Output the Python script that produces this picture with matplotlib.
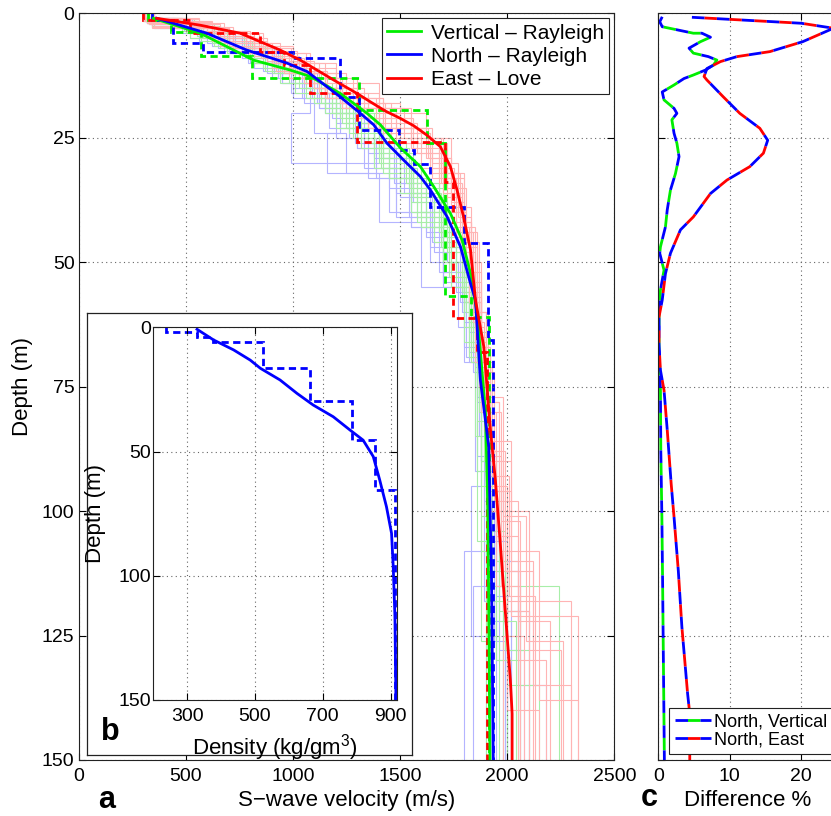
import matplotlib.pyplot as plt

plt.rcParams['font.family'] = ['Liberation Sans', 'DejaVu Sans']
plt.rcParams['mathtext.fontset'] = 'custom'
plt.rcParams['mathtext.rm'] = 'Liberation Sans'

# ── mean (smooth) S-wave profiles: velocity (m/s), depth (m) ─────────────────
vert_v = [349, 567, 816, 987, 1081, 1221, 1346, 1408, 1501, 1595, 1657, 1735,
          1790, 1829, 1849, 1860, 1899, 1910, 1920]
vert_d = [1.0, 4.0, 9.4, 11.4, 12.7, 16.1, 20.1, 22.4, 27.0, 30.8, 34.8, 40.2,
          45.6, 52.3, 57.6, 60.3, 80.4, 100.5, 150]
north_v = [364, 598, 785, 972, 1066, 1221, 1315, 1377, 1439, 1517, 1595, 1642,
           1720, 1782, 1829, 1852, 1875, 1914, 1927, 1935]
north_d = [1.0, 4.0, 7.4, 10.0, 11.7, 16.8, 20.1, 22.4, 26.1, 29.5, 32.8, 35.5,
           40.9, 46.9, 54.3, 57.6, 73.7, 87.1, 113.9, 150]
east_v = [364, 568, 754, 941, 1034, 1112, 1190, 1299, 1362, 1430, 1501, 1564,
          1626, 1688, 1735, 1766, 1797, 1829, 1852, 1891, 1922, 1945, 1969,
          1992, 2015, 2023, 2023]
east_d = [1.0, 2.4, 4.0, 7.4, 9.4, 11.4, 13.4, 16.1, 17.8, 19.6, 21.1, 22.6,
          24.5, 26.8, 30.8, 35.5, 41.0, 47.6, 57.6, 67.0, 83.7, 93.8, 107.2,
          120.6, 134.0, 140.7, 150]

# ── best layered models (dashed): layer edges (m), velocities (m/s) ──────────
vert_best_edges = [0, 1.3, 3.7, 8.6, 13.0, 19.4, 26.0, 56.8, 61.0, 150]
vert_best_v = [325, 430, 570, 810, 1307, 1626, 1712, 1829, 1914]
north_best_edges = [0, 1.3, 6.0, 7.7, 9.0, 16.8, 23.4, 27.5, 30.2, 38.9, 46.1,
                    65.7, 150]
north_best_v = [340, 440, 582, 1000, 1221, 1310, 1493, 1564, 1642, 1797, 1910,
                1932]
east_best_edges = [0, 1.3, 4.0, 7.7, 10.4, 16.1, 25.8, 33.8, 61.3, 68, 150]
east_best_v = [300, 520, 847, 956, 1081, 1300, 1712, 1745, 1858, 1905]

# ── ensemble of accepted models (light lines) ────────────────────────────────
north_models = [
    ([0, 1.5, 5, 9, 14, 20, 27, 35, 45, 58, 75, 100, 130, 150],
     [300, 520, 760, 950, 1150, 1300, 1450, 1620, 1780, 1850, 1900, 1950, 2000]),
    ([0, 2, 6, 11, 17, 24, 32, 42, 55, 70, 90, 115, 150],
     [320, 600, 820, 1000, 1100, 1250, 1400, 1600, 1800, 1880, 1920, 1980]),
    ([0, 1, 4, 8, 13, 19, 26, 34, 44, 56, 72, 95, 125, 150],
     [300, 480, 700, 900, 1120, 1330, 1500, 1680, 1790, 1840, 1880, 1830, 1900]),
    ([0, 2.5, 7, 12, 18, 25, 33, 43, 54, 68, 88, 110, 135, 150],
     [340, 650, 880, 1050, 1200, 1350, 1550, 1700, 1820, 1900, 1950, 2050, 2180]),
    ([0, 1.2, 3.5, 7, 11, 16, 22, 29, 38, 50, 66, 85, 108, 150],
     [300, 500, 730, 920, 1100, 1280, 1420, 1560, 1720, 1830, 1870, 1920, 1800]),
    ([0, 2, 5, 10, 15, 21, 28, 37, 48, 62, 80, 104, 128, 150],
     [320, 580, 800, 1000, 1180, 1350, 1500, 1660, 1800, 1870, 1910, 1960, 2080]),
    ([0, 1.5, 4.5, 8.5, 13, 20, 30, 40, 52, 64, 82, 106, 150],
     [310, 550, 780, 950, 1080, 990, 1450, 1700, 1820, 1880, 1930, 2000]),
    ([0, 3, 8, 14, 20, 27, 36, 46, 58, 74, 96, 120, 150],
     [350, 700, 950, 1150, 1300, 1480, 1650, 1800, 1880, 1920, 1980, 2100]),
    ([0, 1, 3, 6, 10, 15, 22, 31, 41, 53, 69, 92, 118, 150],
     [300, 460, 680, 880, 1050, 1200, 1380, 1540, 1700, 1810, 1850, 1890, 1950]),
    ([0, 1.8, 5.5, 10, 16, 23, 31, 40, 50, 63, 78, 98, 122, 150],
     [330, 560, 790, 990, 1170, 1330, 1480, 1640, 1770, 1860, 1890, 1940, 2020]),
    ([0, 1.2, 4, 7.5, 12, 18, 25, 33, 43, 55, 70, 90, 112, 150],
     [310, 530, 760, 930, 1110, 1260, 1390, 1550, 1700, 1820, 1880, 1920, 2060]),
    ([0, 2.2, 6.5, 11.5, 17, 23, 29, 36, 47, 60, 77, 101, 126, 150],
     [330, 620, 860, 1040, 1220, 1380, 1520, 1640, 1790, 1860, 1900, 1940, 1990]),
    ([0, 1, 3.5, 7, 12, 17, 24, 32, 41, 52, 67, 89, 115, 150],
     [300, 490, 720, 910, 1090, 1220, 1160, 1480, 1680, 1800, 1860, 1910, 1840]),
    ([0, 2.8, 7.5, 13, 19, 26, 34, 44, 56, 71, 93, 117, 150],
     [340, 680, 930, 1120, 1290, 1470, 1620, 1760, 1850, 1900, 1950, 2020]),
]
vert_models = [
    ([0, 1.5, 5, 9, 14, 20, 27, 35, 45, 58, 75, 100, 130, 150],
     [300, 520, 780, 980, 1180, 1380, 1540, 1700, 1800, 1860, 1900, 1950, 2050]),
    ([0, 2, 6, 11, 17, 24, 32, 42, 55, 70, 90, 115, 150],
     [320, 620, 860, 1080, 1260, 1420, 1580, 1740, 1830, 1880, 1920, 2240]),
    ([0, 1, 4, 8, 13, 19, 26, 34, 44, 56, 72, 95, 125, 150],
     [300, 500, 720, 940, 1150, 1350, 1530, 1680, 1790, 1850, 1880, 1900, 1960]),
    ([0, 2.5, 7, 12, 18, 25, 33, 43, 54, 68, 88, 110, 135, 150],
     [340, 660, 900, 1100, 1280, 1450, 1620, 1760, 1840, 1900, 1950, 2000, 2150]),
    ([0, 1.2, 3.5, 7, 11, 16, 22, 29, 38, 50, 66, 85, 108, 150],
     [300, 480, 700, 900, 1080, 1250, 1400, 1550, 1700, 1800, 1850, 1880, 1900]),
    ([0, 2, 5, 10, 15, 21, 28, 37, 48, 62, 80, 104, 128, 150],
     [320, 580, 820, 1030, 1220, 1400, 1560, 1720, 1820, 1870, 1920, 1990, 2100]),
    ([0, 1.5, 4.5, 8.5, 13, 20, 30, 40, 52, 64, 82, 106, 150],
     [310, 550, 800, 1000, 1200, 1400, 1600, 1760, 1850, 1900, 1860, 1930]),
    ([0, 3, 8, 14, 20, 27, 36, 46, 58, 74, 96, 120, 150],
     [350, 690, 940, 1150, 1320, 1500, 1660, 1800, 1870, 1910, 1960, 2060]),
    ([0, 1, 3, 6, 10, 15, 22, 31, 41, 53, 69, 92, 118, 150],
     [300, 470, 690, 880, 1060, 1230, 1410, 1580, 1730, 1820, 1860, 1900, 1980]),
    ([0, 1.8, 5.5, 10, 16, 23, 31, 40, 50, 63, 78, 98, 122, 150],
     [330, 570, 810, 1010, 1200, 1380, 1550, 1700, 1800, 1870, 1910, 1960, 2040]),
    ([0, 1.2, 4, 7.5, 12, 18, 25, 33, 43, 55, 70, 90, 112, 150],
     [310, 540, 770, 950, 1130, 1300, 1450, 1600, 1740, 1830, 1890, 1930, 2000]),
    ([0, 2.2, 6.5, 11.5, 17, 23, 29, 36, 47, 60, 77, 101, 126, 150],
     [330, 630, 870, 1060, 1250, 1420, 1560, 1690, 1810, 1870, 1910, 1880, 1920]),
]
east_models = [
    ([0, 1.5, 4, 8, 12, 17, 22, 28, 36, 48, 65, 90, 120, 150],
     [300, 520, 780, 960, 1150, 1350, 1580, 1700, 1780, 1850, 1900, 1980, 2100]),
    ([0, 2, 5, 9, 14, 19, 26, 33, 45, 58, 80, 105, 130, 150],
     [320, 600, 850, 1050, 1250, 1480, 1680, 1760, 1820, 1880, 1950, 2050, 2180]),
    ([0, 1, 3, 7, 11, 15, 21, 27, 34, 42, 55, 75, 100, 125, 150],
     [300, 450, 700, 900, 1100, 1300, 1550, 1680, 1760, 1830, 1870, 1920, 2000,
      2080]),
    ([0, 2.5, 6, 10, 16, 23, 30, 40, 52, 70, 95, 118, 150],
     [350, 650, 900, 1150, 1400, 1650, 1770, 1810, 1850, 1900, 2000, 2300]),
    ([0, 1.2, 3.5, 6.5, 10, 14, 20, 25, 32, 44, 60, 78, 108, 138, 150],
     [310, 500, 800, 1000, 1200, 1400, 1620, 1740, 1800, 1860, 1900, 1960, 2150,
      2330]),
    ([0, 2, 4.5, 8.5, 13, 18, 24, 31, 39, 50, 68, 88, 112, 150],
     [330, 580, 820, 1030, 1230, 1430, 1640, 1750, 1830, 1880, 1920, 1990, 2050]),
    ([0, 1.5, 5, 9.5, 15, 21, 28, 37, 47, 62, 84, 100, 128, 150],
     [300, 620, 880, 1100, 1330, 1560, 1720, 1790, 1840, 1890, 1940, 2100, 2250]),
    ([0, 3, 7, 12, 18, 25, 33, 43, 57, 73, 92, 115, 140, 150],
     [340, 700, 1000, 1250, 1500, 1700, 1800, 1850, 1880, 1910, 1950, 2000, 2150]),
    ([0, 1, 4, 8, 13, 19, 26, 35, 46, 60, 80, 102, 125, 150],
     [300, 560, 860, 1080, 1300, 1550, 1720, 1810, 1870, 1910, 1970, 2060, 1980]),
    ([0, 2, 6, 11, 17, 23, 29, 38, 50, 66, 86, 110, 135, 150],
     [320, 680, 940, 1200, 1420, 1630, 1740, 1800, 1860, 1900, 2020, 2120, 2300]),
    ([0, 1.8, 5.5, 10, 16, 23, 31, 40, 50, 63, 78, 98, 122, 150],
     [330, 620, 880, 1120, 1350, 1600, 1740, 1800, 1850, 1890, 1960, 2050, 2200]),
    ([0, 1.2, 4, 7.5, 12, 18, 25, 33, 43, 55, 70, 90, 112, 150],
     [310, 560, 820, 1020, 1220, 1460, 1650, 1760, 1820, 1870, 1930, 2020, 2120]),
    ([0, 2.2, 6.5, 11.5, 17, 23, 29, 36, 47, 60, 77, 101, 126, 150],
     [330, 660, 920, 1160, 1390, 1620, 1740, 1800, 1860, 1900, 1980, 2090, 2260]),
    ([0, 1, 3.5, 7, 12, 17, 24, 32, 41, 52, 67, 89, 115, 150],
     [300, 520, 780, 990, 1200, 1420, 1640, 1770, 1830, 1880, 1920, 1970, 2060]),
    ([0, 2.8, 7.5, 13, 19, 26, 34, 44, 56, 71, 93, 117, 150],
     [340, 720, 980, 1230, 1480, 1690, 1790, 1840, 1880, 1930, 2010, 2130]),
    ([0, 1.5, 4, 8, 13, 19, 25, 32, 42, 54, 72, 96, 121, 150],
     [310, 580, 840, 1060, 1280, 1520, 1690, 1780, 1830, 1880, 1940, 2020, 2330]),
]

# ── density profile (inset b) ────────────────────────────────────────────────
dens_rho = [329, 378, 437, 486, 516, 574, 624, 672, 731, 780, 819, 849, 868,
            888, 903, 908, 913, 916]
dens_d = [0.8, 5.1, 9.1, 13.2, 16.5, 21.2, 26.6, 31.3, 36.0, 41.3, 45.4, 52.0,
          61.4, 72.2, 82.9, 96.3, 116.5, 150]
dens_best_edges = [0, 1.8, 4.0, 5.8, 16.5, 29.5, 45.5, 65.5, 150]
dens_best_rho = [236, 330, 375, 525, 662, 785, 855, 912]

# ── difference (panel c): percent, depth ─────────────────────────────────────
nv_pct = [0.55, 0.2, 0.55, 4.9, 6.1, 7.3, 5.9, 4.3, 4.9, 7.0, 8.2, 7.7, 6.6,
          4.9, 3.6, 2.2, 0.55, 0.8, 2.2, 2.6, 1.9, 2.2, 2.6, 2.9, 2.4, 1.7,
          1.25, 1.0, 0.3, 0.2, 0.8, 0.3, 0.1, 0.1, 0.3, 0.35, 0.5, 0.6, 0.85]
nv_d = [0.7, 1.7, 2.7, 4.0, 4.0, 4.8, 5.7, 7.0, 8.0, 8.7, 9.4, 10.4, 11.4,
        12.4, 13.1, 14.4, 15.8, 17.4, 19.1, 20.1, 21.4, 24.1, 26.1, 28.8, 32.2,
        35.5, 39.5, 42.9, 46.9, 48.2, 51.6, 55.6, 61.0, 67.0, 75.7, 87.8,
        101.2, 113.9, 150]
ne_pct = [4.7, 20.0, 24.5, 20.2, 15.6, 11.0, 8.7, 6.8, 6.4, 6.8, 9.1, 11.4,
          14.2, 15.3, 14.7, 12.8, 9.6, 7.3, 4.9, 3.1, 1.7, 1.0, 0.55, 0.1, 0.1,
          0.3, 0.8, 1.25, 1.8, 2.2, 2.8, 3.3, 4.1, 4.4, 4.4]
ne_d = [0.8, 2.0, 3.0, 5.7, 7.7, 8.7, 9.7, 11.1, 12.7, 13.4, 16.8, 20.1, 23.1,
        25.5, 28.1, 30.8, 33.5, 36.2, 40.9, 43.5, 48.2, 52.3, 57.6, 61.0, 66.4,
        71.7, 75.7, 83.7, 94.5, 101.2, 112.0, 123.3, 136.7, 140.7, 150]

W, H = 831, 816
fig = plt.figure(figsize=(W / 100, H / 100), dpi=100)
fig.patch.set_facecolor("white")


def box(x0, y0, x1, y1):
    return [x0 / W, 1 - y1 / H, (x1 - x0) / W, (y1 - y0) / H]


def matlab_style(a, size=14):
    a.tick_params(direction="in", top=True, right=True, length=5, width=0.8,
                  labelsize=size, colors="k")
    for s in a.spines.values():
        s.set_linewidth(0.8)
        s.set_color("#222222")
    a.grid(True, linestyle=(0, (1, 3)), color="#666666", linewidth=0.8)


ax = fig.add_axes(box(78.7, 13.3, 614.3, 760))
axc = fig.add_axes(box(658.3, 13.3, 872.8, 760))
frame = fig.add_axes(box(87.3, 313.3, 412.3, 755))
axb = fig.add_axes(box(153.3, 327.3, 397.3, 700))

# ── panel a ──────────────────────────────────────────────────────────────────
for models, col in [(north_models, "#b4b4ff"), (vert_models, "#a8eea8"),
                    (east_models, "#ffb4b4")]:
    for edges, vals in models:
        ax.stairs(vals, edges, orientation="horizontal", baseline=None,
                  color=col, lw=0.8)

dash = (0, (2.6, 1.6))
for edges, vals, col in [(vert_best_edges, vert_best_v, "#00ee00"),
                         (north_best_edges, north_best_v, "#0000ff"),
                         (east_best_edges, east_best_v, "#ff0000")]:
    ax.stairs(vals, edges, orientation="horizontal", baseline=None,
              color=col, lw=2, linestyle=dash)

ax.plot(vert_v, vert_d, color="#00ee00", lw=2, label="Vertical \u2013 Rayleigh")
ax.plot(north_v, north_d, color="#0000ff", lw=2, label="North \u2013 Rayleigh")
ax.plot(east_v, east_d, color="#ff0000", lw=2, label="East \u2013 Love")

ax.set_xlim(0, 2500)
ax.set_ylim(150, 0)
ax.set_xticks([0, 500, 1000, 1500, 2000, 2500])
ax.set_yticks([0, 25, 50, 75, 100, 125, 150])
matlab_style(ax)
ax.tick_params(axis="x", pad=6)
ax.tick_params(axis="y", pad=3)
ax.set_xlabel("S\u2212wave velocity (m/s)", fontsize=16)
ax.xaxis.set_label_coords(0.5, -0.04)
ax.set_ylabel("Depth (m)", fontsize=16)
ax.yaxis.set_label_coords(-0.085, 0.5)

leg = ax.legend(loc="upper right", bbox_to_anchor=(0.9907, 0.9933),
                borderaxespad=0, fontsize=15, handlelength=1.6,
                handletextpad=0.5, labelspacing=0.2, borderpad=0.25,
                fancybox=False, framealpha=1)
leg.get_frame().set_edgecolor("#222222")
leg.get_frame().set_linewidth(0.8)

# ── inset b ──────────────────────────────────────────────────────────────────
frame.set_xticks([])
frame.set_yticks([])
frame.set_facecolor("white")
for s in frame.spines.values():
    s.set_linewidth(0.9)
    s.set_color("#222222")

axb.stairs(dens_best_rho, dens_best_edges, orientation="horizontal",
           baseline=None, color="#0000ff", lw=2, linestyle=dash)
axb.plot(dens_rho, dens_d, color="#0000ff", lw=2)
axb.set_xlim(200, 920)
axb.set_ylim(150, 0)
axb.set_xticks([300, 500, 700, 900])
axb.set_yticks([0, 50, 100, 150])
matlab_style(axb)
axb.tick_params(axis="x", pad=6)
axb.tick_params(axis="y", pad=1.5)
axb.set_xlabel("Density (kg/gm$^{\\mathrm{3}}$)", fontsize=16)
axb.xaxis.set_label_coords(0.5, -0.085)
axb.set_ylabel("Depth (m)", fontsize=16)
axb.yaxis.set_label_coords(-0.194, 0.5)

# ── panel c ──────────────────────────────────────────────────────────────────
axc.plot(nv_pct, nv_d, color="#0000ff", lw=2, linestyle=(0, (4.5, 4.5)),
         gapcolor="#00ee00", label="North, Vertical")
axc.plot(ne_pct, ne_d, color="#0000ff", lw=2, linestyle=(0, (4.5, 4.5)),
         gapcolor="#ff0000", label="North, East")
axc.set_xlim(0, 30)
axc.set_ylim(150, 0)
axc.set_xticks([0, 10, 20])
axc.set_yticks([0, 25, 50, 75, 100, 125, 150])
matlab_style(axc)
axc.tick_params(axis="x", pad=6)
axc.tick_params(labelleft=False)
axc.set_xlabel("Difference %", fontsize=16)
axc.xaxis.set_label_coords(0.416, -0.04)

legc = axc.legend(loc="lower left", bbox_to_anchor=(0.0513, 0.008),
                  borderaxespad=0, fontsize=13, handlelength=2.0,
                  handletextpad=0.2, labelspacing=0.05, borderpad=0.3,
                  fancybox=False, framealpha=1)
legc.get_frame().set_edgecolor("#222222")
legc.get_frame().set_linewidth(0.8)

# ── panel letters ────────────────────────────────────────────────────────────
for x, y, s in [(107, 800, "a"), (110.5, 732, "b"), (649, 798, "c")]:
    fig.text(x / W, 1 - y / H, s, fontsize=22, fontweight="bold",
             ha="center", va="center")

fig.savefig("out.png", dpi=100, facecolor="white")
